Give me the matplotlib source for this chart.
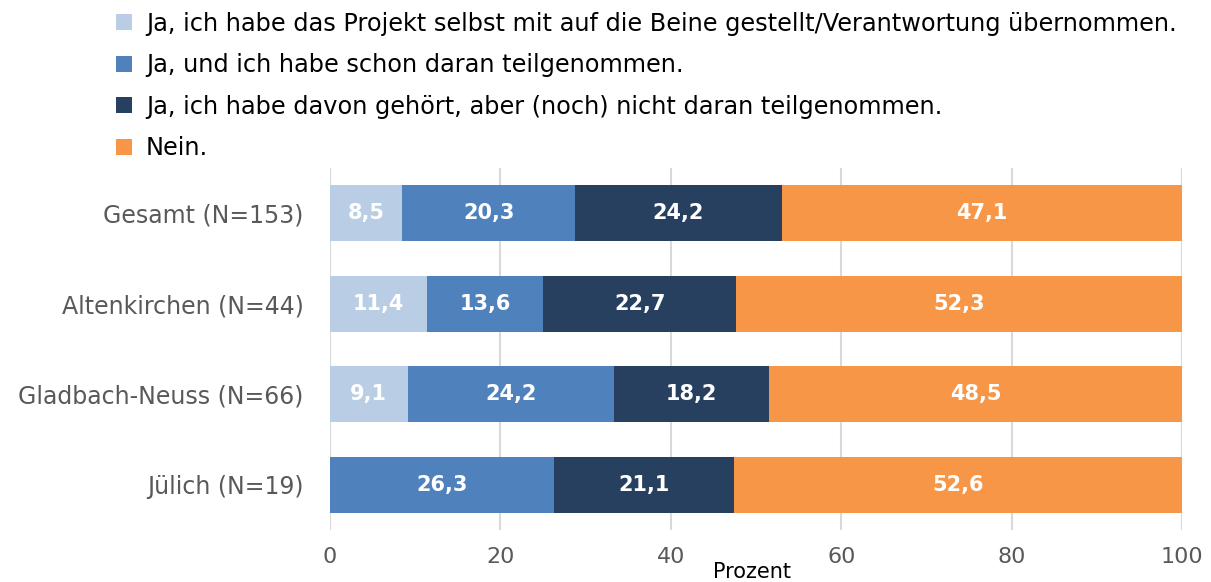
import matplotlib
matplotlib.use("Agg")
import matplotlib.pyplot as plt
from matplotlib.patches import Patch
import numpy as np

plt.rcParams['font.family'] = ['DejaVu Sans']

categories = ["Gesamt (N=153)", "Altenkirchen (N=44)", "Gladbach-Neuss (N=66)", "Jülich (N=19)"]
series_names = [
    "Ja, ich habe das Projekt selbst mit auf die Beine gestellt/Verantwortung übernommen.",
    "Ja, und ich habe schon daran teilgenommen.",
    "Ja, ich habe davon gehört, aber (noch) nicht daran teilgenommen.",
    "Nein.",
]
verantwortung = [8.5, 11.4, 9.1, 0.0]
teilgenommen = [20.3, 13.6, 24.2, 26.3]
gehoert = [24.2, 22.7, 18.2, 21.1]
nein = [47.1, 52.3, 48.5, 52.6]
xticks = [0, 20, 40, 60, 80, 100]

colors = ["#B9CDE5", "#4F81BD", "#27405F", "#F79646"]
series = [verantwortung, teilgenommen, gehoert, nein]

fig = plt.figure(figsize=(12.11, 5.82), dpi=100)
ax = fig.add_axes([330 / 1211, 1 - 530 / 582, 852 / 1211, 362 / 582])

y = np.arange(len(categories))
left = np.zeros(len(categories))
for vals, col in zip(series, colors):
    vals = np.array(vals)
    bars = ax.barh(y, vals, left=left, height=0.62, color=col, zorder=3)
    for b, v in zip(bars, vals):
        if v > 0:
            ax.text(b.get_x() + b.get_width() / 2, b.get_y() + b.get_height() / 2,
                    f"{v:.1f}".replace(".", ","), ha="center", va="center",
                    color="white", fontsize=15, fontweight="bold", zorder=4)
    left = left + vals

ax.set_xlim(0, 100)
ax.set_ylim(3.5, -0.5)
ax.set_yticks(y)
ax.set_yticklabels(categories, fontsize=17, color="#595959")
ax.set_xticks(xticks)
ax.set_xticklabels([str(t) for t in xticks], fontsize=16, color="#595959")
ax.tick_params(axis="y", length=0, pad=19)
ax.tick_params(axis="x", length=0, pad=12)
ax.xaxis.grid(True, color="#D9D9D9", linewidth=1.5, zorder=0)
for s in ax.spines.values():
    s.set_visible(False)
ax.set_xlabel("Prozent", fontsize=15, color="black", labelpad=0)
ax.xaxis.set_label_coords(0.495, -0.088)
ax.xaxis.label.set_va("top")

handles = [Patch(facecolor=c, edgecolor="none") for c in colors]
fig.legend(handles, series_names, loc="upper left", bbox_to_anchor=(0.078, 1.017),
           frameon=False, fontsize=17.3, handlelength=0.65, handleheight=0.65,
           handletextpad=0.6, labelspacing=0.73)

fig.savefig("out.png", dpi=100)
